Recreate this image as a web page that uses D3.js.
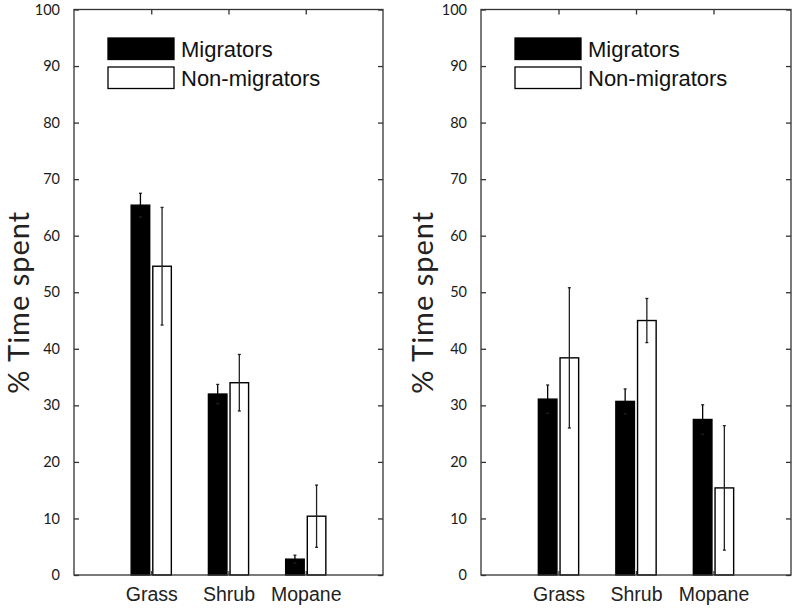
<!DOCTYPE html>
<html>
<head>
<meta charset="utf-8">
<script src="https://cdn.jsdelivr.net/npm/d3@7"></script>
<style>
  html, body { margin: 0; padding: 0; background: #fff; }
  svg { display: block; }
</style>
</head>
<body>
<svg id="chart" width="800" height="613"></svg>
<script>
const categories = ["Grass", "Shrub", "Mopane"];
const seriesNames = ["Migrators", "Non-migrators"];
const yTicks = [0, 10, 20, 30, 40, 50, 60, 70, 80, 90, 100];

const leftMigrators = [65.4, 32.0, 2.8];
const leftMigratorsErr = [2.1, 1.7, 0.7];
const leftNonMigrators = [54.6, 34.0, 10.4];
const leftNonMigratorsErr = [10.4, 5.0, 5.5];

const rightMigrators = [31.1, 30.7, 27.5];
const rightMigratorsErr = [2.5, 2.2, 2.6];
const rightNonMigrators = [38.4, 45.0, 15.4];
const rightNonMigratorsErr = [12.4, 3.9, 11.0];

const svg = d3.select("#chart");
const axisColor = "#333";

function panel(x0, x1, migr, migrErr, non, nonErr, labelX) {
  const top = 9.5, bottom = 575;
  const x = d3.scaleLinear().domain([0, 4]).range([x0, x1]);
  const y = d3.scaleLinear().domain([0, 100]).range([bottom, top]);
  const g = svg.append("g");
  const bw = 0.24, off = 0.14;

  const series = [
    {vals: migr, errs: migrErr, fill: "#000", dx: -off},
    {vals: non, errs: nonErr, fill: "#fff", dx: off}
  ];

  series.forEach(s => {
    g.selectAll(null).data(s.vals).enter().append("rect")
      .attr("x", (d, i) => x(i + 1 + s.dx - bw / 2))
      .attr("width", x(bw) - x(0))
      .attr("y", d => y(d))
      .attr("height", d => y(0) - y(d))
      .attr("fill", s.fill)
      .attr("stroke", "#000")
      .attr("stroke-width", 1.4);
  });

  series.forEach(s => {
    s.vals.forEach((v, i) => {
      const cx = x(i + 1 + s.dx);
      const e = s.errs[i];
      g.append("line").attr("x1", cx).attr("x2", cx)
        .attr("y1", y(v - e)).attr("y2", y(v + e))
        .attr("stroke", s.fill === "#000" ? "#000" : "#222").attr("stroke-width", 1.3);
      [v - e, v + e].forEach(t => {
        g.append("line").attr("x1", cx - 1.5).attr("x2", cx + 1.5)
          .attr("y1", y(t)).attr("y2", y(t))
          .attr("stroke", "#222").attr("stroke-width", 1.3);
      });
    });
  });

  const axisStyle = sel => sel.call(a => a.select(".domain").remove())
    .selectAll("line").attr("stroke", axisColor).attr("stroke-width", 1.3);

  const left = g.append("g").attr("transform", `translate(${x0},0)`)
    .call(d3.axisLeft(y).tickValues(yTicks).tickSize(-5).tickPadding(14));
  left.call(axisStyle);
  left.selectAll("text").attr("font-family", "Lato, 'Open Sans', sans-serif")
    .attr("font-size", 14.5).attr("fill", "#1a1a1a");

  const right = g.append("g").attr("transform", `translate(${x1},0)`)
    .call(d3.axisRight(y).tickValues(yTicks).tickSize(-5).tickFormat(""));
  right.call(axisStyle);

  const topAx = g.append("g").attr("transform", `translate(0,${top})`)
    .call(d3.axisTop(x).tickValues([1, 2, 3]).tickSize(-5).tickFormat(""));
  topAx.call(axisStyle);

  const bot = g.append("g").attr("transform", `translate(0,${bottom})`)
    .call(d3.axisBottom(x).tickValues([1, 2, 3]).tickSize(-4)
      .tickFormat((d) => categories[d - 1]).tickPadding(12));
  bot.call(axisStyle);
  bot.selectAll("text").attr("font-family", "'Liberation Sans', Arial, sans-serif")
    .attr("font-size", 19.5).attr("fill", "#222");

  g.append("rect").attr("x", x0).attr("y", top)
    .attr("width", x1 - x0).attr("height", bottom - top)
    .attr("fill", "none").attr("stroke", axisColor).attr("stroke-width", 1.3);

  g.append("text")
    .attr("transform", `translate(${labelX},${(top + bottom) / 2 + 10}) rotate(-90)`)
    .attr("text-anchor", "middle")
    .attr("font-family", "Lato, 'Open Sans', sans-serif")
    .attr("font-size", 29).attr("letter-spacing", 1).attr("fill", "#222")
    .text("% Time spent");

  const lx = x0 + 34;
  const legend = g.append("g");
  seriesNames.forEach((name, i) => {
    const ly = 38 + i * 29;
    legend.append("rect").attr("x", lx).attr("y", ly)
      .attr("width", 66).attr("height", 21.5)
      .attr("fill", i === 0 ? "#000" : "#fff")
      .attr("stroke", "#000").attr("stroke-width", 1.3);
    legend.append("text").attr("x", lx + 73).attr("y", ly + 19)
      .attr("font-family", "'Liberation Sans', Arial, sans-serif")
      .attr("font-size", 22).attr("fill", "#111")
      .text(name);
  });
}

panel(74, 383, leftMigrators, leftMigratorsErr, leftNonMigrators, leftNonMigratorsErr, 29);
panel(481, 791, rightMigrators, rightMigratorsErr, rightNonMigrators, rightNonMigratorsErr, 433);
</script>
</body>
</html>
